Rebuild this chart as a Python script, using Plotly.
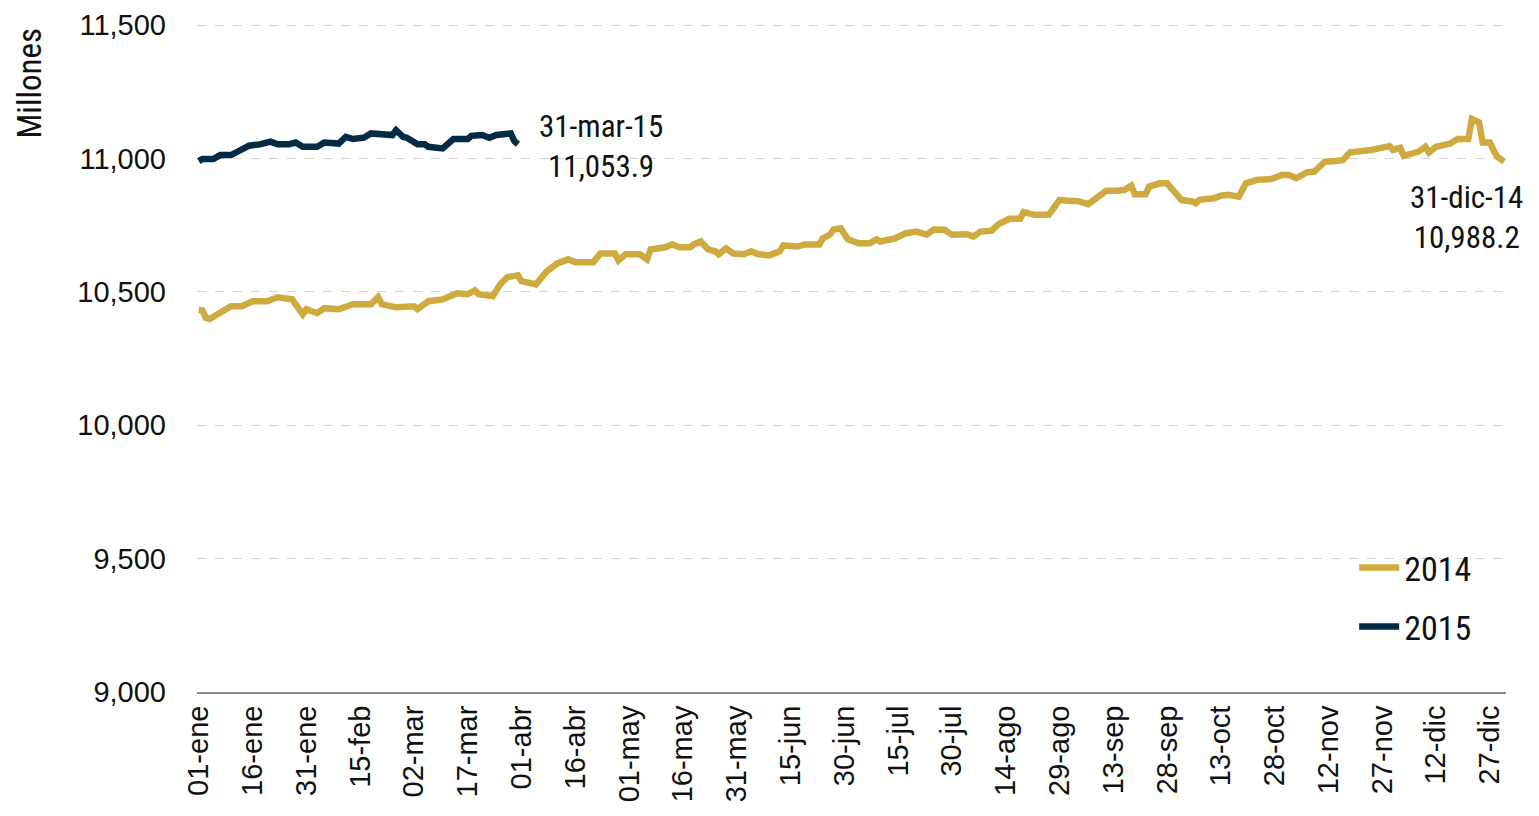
import plotly.graph_objects as go

# Day of year (0 = 01-ene) and values (millones)
days_2014 = [0, 1, 2, 3, 9, 12, 15, 19, 22, 26, 29, 30, 33, 35, 39, 43, 48, 50, 51, 55, 60, 61, 64, 68,
             72, 75, 77, 78, 82, 84, 86, 89, 90, 94, 97, 100, 103, 105, 110, 112, 116, 117, 119, 123,
             125, 126, 130, 132, 134, 137, 138, 140, 142, 144, 145, 147, 149, 152, 154, 156, 159, 162,
             163, 167, 169, 173, 174, 176, 177, 179, 181, 184, 187, 189, 190, 194, 197, 200, 203, 205,
             208, 210, 214, 216, 218, 221, 223, 226, 229, 230, 233, 237, 238, 240, 243, 245, 248, 249,
             253, 256, 258, 260, 261, 264, 265, 268, 270, 272, 274, 277, 278, 279, 283, 285, 287, 290,
             292, 295, 299, 302, 304, 306, 309, 311, 314, 317, 319, 321, 324, 327, 330, 332, 333, 335,
             336, 338, 340, 342, 343, 345, 347, 349, 351, 354, 355, 357, 358, 360, 361, 362, 364]
vals_2014 = [10432, 10430, 10402, 10398, 10446, 10446, 10465, 10465, 10480, 10472, 10416, 10435, 10420,
             10439, 10435, 10454, 10454, 10480, 10454, 10442, 10446, 10435, 10465, 10472, 10495, 10491,
             10506, 10491, 10484, 10528, 10555, 10562, 10540, 10528, 10577, 10607, 10622, 10611, 10611,
             10644, 10644, 10618, 10641, 10641, 10622, 10659, 10667, 10678, 10667, 10667, 10678, 10689,
             10659, 10652, 10641, 10663, 10644, 10641, 10652, 10641, 10637, 10652, 10674, 10670, 10678,
             10678, 10700, 10715, 10734, 10738, 10697, 10682, 10682, 10697, 10689, 10700, 10719, 10726,
             10715, 10734, 10733, 10714, 10716, 10708, 10726, 10729, 10754, 10774, 10774, 10799, 10789,
             10789, 10807, 10845, 10841, 10841, 10829, 10839, 10879, 10879, 10882, 10898, 10866, 10866,
             10895, 10907, 10907, 10876, 10845, 10839, 10832, 10845, 10851, 10861, 10864, 10857, 10907,
             10920, 10923, 10938, 10938, 10926, 10948, 10951, 10988, 10991, 10994, 11023, 11025, 11032,
             11041, 11047, 11032, 11040, 11010, 11019, 11025, 11044, 11023, 11044, 11048, 11056, 11073,
             11073, 11148, 11135, 11060, 11060, 11032, 11007, 10988.2]

days_2015 = [0, 1, 4, 6, 9, 11, 14, 17, 20, 22, 25, 27, 29, 33, 35, 39, 41, 43, 46, 48, 51, 54, 55, 57,
             58, 61, 63, 64, 68, 69, 71, 75, 76, 79, 81, 83, 85, 87, 88, 89]
vals_2015 = [10990, 10998, 10998, 11013, 11013, 11025, 11048, 11053, 11063, 11053, 11053, 11060, 11044,
             11044, 11060, 11056, 11081, 11073, 11078, 11094, 11094, 11088, 11106, 11081, 11078, 11053,
             11053, 11044, 11038, 11050, 11073, 11073, 11085, 11088, 11078, 11088, 11094, 11094, 11065,
             11053.9]

tick_days = list(range(0, 361, 15))
tick_labels = ["01-ene", "16-ene", "31-ene", "15-feb", "02-mar", "17-mar", "01-abr", "16-abr",
               "01-may", "16-may", "31-may", "15-jun", "30-jun", "15-jul", "30-jul", "14-ago",
               "29-ago", "13-sep", "28-sep", "13-oct", "28-oct", "12-nov", "27-nov", "12-dic", "27-dic"]
y_ticks = [9000, 9500, 10000, 10500, 11000, 11500]

GOLD = "#CFAB3F"
NAVY = "#032B45"
NARROW = "Roboto Condensed, Liberation Sans Narrow, DejaVu Sans Condensed, Roboto, sans-serif"

fig = go.Figure()
fig.add_trace(go.Scatter(x=days_2014, y=vals_2014, mode="lines", name="2014", legendgroup="a",
                         line=dict(color=GOLD, width=6.5)))
fig.add_trace(go.Scatter(x=days_2015, y=vals_2015, mode="lines", name="2015", legendgroup="b",
                         line=dict(color=NAVY, width=6.5)))

fig.add_annotation(x=days_2015[-1], y=vals_2015[-1], text="31-mar-15<br>11,053.9",
                   showarrow=False, xshift=83, yshift=-2, xanchor="center", yanchor="middle",
                   font=dict(family=NARROW, size=31, color="#111111"))
fig.add_annotation(x=days_2014[-1], y=vals_2014[-1], text="31-dic-14<br>10,988.2",
                   showarrow=False, xshift=-38, yshift=-56, xanchor="center", yanchor="middle",
                   font=dict(family=NARROW, size=31, color="#111111"))
fig.add_annotation(xref="paper", yref="paper", x=-0.128, y=0.996, text="Millones",
                   textangle=-90, showarrow=False, xanchor="center", yanchor="top",
                   font=dict(family=NARROW, size=33, color="#111111"))

fig.update_layout(
    width=1539, height=816,
    margin=dict(l=189, r=41, t=15, b=132, autoexpand=False),
    paper_bgcolor="white", plot_bgcolor="white",
    showlegend=True,
    legend=dict(x=0.884, y=0.229, xanchor="left", yanchor="top",
                font=dict(family=NARROW, size=34, color="#111111"),
                bgcolor="rgba(0,0,0,0)", tracegroupgap=12, itemwidth=40),
)
fig.update_xaxes(range=[-0.5, 364.5], tickvals=tick_days, ticktext=tick_labels,
                 tickangle=-90, showgrid=False, zeroline=False, automargin=False,
                 showline=True, linecolor="#8C8C8C", linewidth=2, ticks="",
                 tickfont=dict(family="Liberation Sans", size=29, color="#111111"))
fig.update_yaxes(range=[9000, 11508], tickvals=y_ticks, tickformat=",d", automargin=False,
                 showgrid=True, gridcolor="#D6D6D6", griddash="dash", gridwidth=1,
                 zeroline=False, showline=False, ticks="", ticklabelstandoff=30,
                 ticklabeloverflow="allow",
                 tickfont=dict(family="Liberation Sans", size=29, color="#111111"))

fig.write_html("out.html")
